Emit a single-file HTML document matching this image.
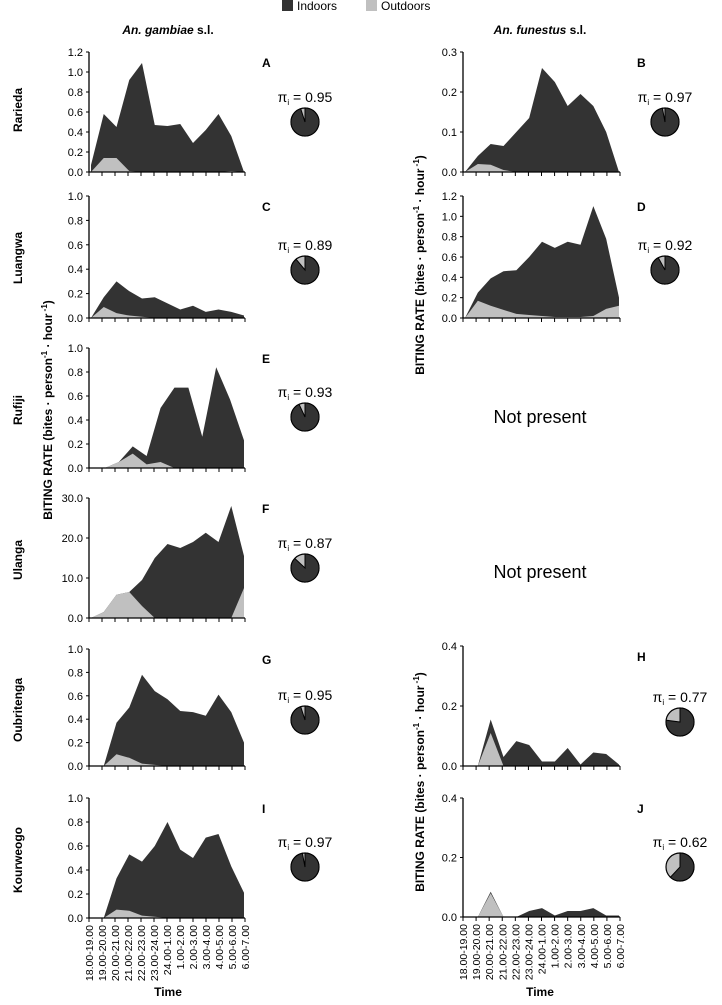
<!DOCTYPE html>
<html><head><meta charset="utf-8"><style>
body{margin:0;background:#fff;font-family:"Liberation Sans",sans-serif;}
svg text{font-family:"Liberation Sans",sans-serif;}
</style></head><body>
<svg id="fig" width="722" height="1000" viewBox="0 0 722 1000" xmlns="http://www.w3.org/2000/svg">
<g>
<rect x="282" y="0" width="11" height="11" fill="#333"/>
<text x="297" y="10" font-size="12">Indoors</text>
<rect x="366" y="0" width="11" height="11" fill="#c0c0c0"/>
<text x="381" y="10" font-size="12">Outdoors</text>
</g>
<text x="168" y="34" font-size="12" font-weight="bold" text-anchor="middle"><tspan font-style="italic">An. gambiae</tspan> s.l.</text>
<text x="540" y="34" font-size="12" font-weight="bold" text-anchor="middle"><tspan font-style="italic">An. funestus</tspan> s.l.</text>
<text x="540" y="423" font-size="18" text-anchor="middle">Not present</text>
<text x="540" y="578" font-size="18" text-anchor="middle">Not present</text>
<text transform="translate(52,410) rotate(-90)" font-size="12" font-weight="bold" text-anchor="middle">BITING RATE (bites · person<tspan font-size="8" dy="-5">-1</tspan><tspan dy="5"> · hour</tspan><tspan font-size="8" dy="-5"> -1</tspan><tspan dy="5">)</tspan></text>
<text transform="translate(424,265) rotate(-90)" font-size="12" font-weight="bold" text-anchor="middle">BITING RATE (bites · person<tspan font-size="8" dy="-5">-1</tspan><tspan dy="5"> · hour</tspan><tspan font-size="8" dy="-5"> -1</tspan><tspan dy="5">)</tspan></text>
<text transform="translate(424,782) rotate(-90)" font-size="12" font-weight="bold" text-anchor="middle">BITING RATE (bites · person<tspan font-size="8" dy="-5">-1</tspan><tspan dy="5"> · hour</tspan><tspan font-size="8" dy="-5"> -1</tspan><tspan dy="5">)</tspan></text>
<text x="168" y="996" font-size="12" font-weight="bold" text-anchor="middle">Time</text>
<text x="540" y="996" font-size="12" font-weight="bold" text-anchor="middle">Time</text>
</svg>
<script>
const timeLabels=["18.00-19.00","19.00-20.00","20.00-21.00","21.00-22.00","22.00-23.00","23.00-24.00","24.00-1.00","1.00-2.00","2.00-3.00","3.00-4.00","4.00-5.00","5.00-6.00","6.00-7.00"];
const sites=["Rarieda","Luangwa","Rufiji","Ulanga","Oubritenga","Kourweogo"];
const indoorA=[0.07,0.58,0.45,0.92,1.09,0.47,0.46,0.48,0.29,0.42,0.58,0.36,0];
const outdoorA=[0,0.14,0.14,0.01,0,0,0,0,0,0,0,0.01,0];
const indoorB=[0,0.04,0.07,0.065,0.1,0.135,0.26,0.225,0.165,0.195,0.165,0.1,0];
const outdoorB=[0,0.02,0.018,0.005,0,0,0,0,0,0,0,0,0];
const indoorC=[0,0.17,0.30,0.22,0.16,0.17,0.12,0.07,0.10,0.05,0.07,0.05,0.02];
const outdoorC=[0,0.09,0.04,0.02,0.01,0,0,0,0,0,0,0,0];
const indoorD=[0,0.25,0.39,0.46,0.47,0.6,0.75,0.69,0.75,0.72,1.1,0.78,0.2];
const outdoorD=[0,0.17,0.12,0.08,0.04,0.03,0.02,0.01,0.01,0.01,0.02,0.09,0.12];
const indoorE=[0,0,0.05,0.18,0.1,0.5,0.67,0.67,0.26,0.84,0.57,0.23];
const outdoorE=[0,0,0.05,0.12,0.03,0.05,0,0,0,0,0,0];
const indoorF=[0,1.5,5.8,6.5,9.5,15,18.5,17.5,19,21.3,19,28,15.5];
const outdoorF=[0,1.5,5.8,6.5,3,0,0,0,0,0,0,0,7.5];
const indoorG=[0,0,0.37,0.5,0.78,0.64,0.57,0.47,0.46,0.43,0.61,0.46,0.2];
const outdoorG=[0,0,0.1,0.07,0.02,0.01,0,0,0,0,0,0,0];
const indoorH=[0,0,0.155,0.03,0.083,0.07,0.015,0.015,0.06,0.005,0.045,0.04,0.005];
const outdoorH=[0,0,0.11,0,0,0,0,0,0,0,0,0,0];
const indoorI=[0,0,0.33,0.53,0.47,0.6,0.8,0.57,0.5,0.67,0.7,0.43,0.21];
const outdoorI=[0,0,0.07,0.06,0.02,0.01,0,0,0,0,0,0,0];
const indoorJ=[0,0,0.085,0,0,0.02,0.03,0.005,0.02,0.02,0.03,0.005,0.005];
const outdoorJ=[0,0,0.08,0,0,0,0,0,0,0,0,0,0];
const piValues=[0.95,0.97,0.89,0.92,0.93,0.87,0.95,0.77,0.97,0.62];
const ticksA=[0,0.2,0.4,0.6,0.8,1.0,1.2];
const ticksB=[0,0.1,0.2,0.3];
const ticks1=[0,0.2,0.4,0.6,0.8,1.0];
const ticksF=[0,10,20,30];
const ticksH=[0,0.2,0.4];

const NS="http://www.w3.org/2000/svg";
const svg=document.getElementById('fig');
function mk(tag,attrs,parent){const e=document.createElementNS(NS,tag);for(const k in attrs)e.setAttribute(k,attrs[k]);(parent||svg).appendChild(e);return e;}
const panels=[
 {id:'A',x0:91,x1:244,top:52,bot:172,max:1.2,ticks:ticksA,ind:indoorA,out:outdoorA,pi:0,px:305,py:122},
 {id:'B',x0:465,x1:619,top:52,bot:172,max:0.3,ticks:ticksB,ind:indoorB,out:outdoorB,pi:1,px:665,py:122},
 {id:'C',x0:91,x1:244,top:196,bot:318,max:1.0,ticks:ticks1,ind:indoorC,out:outdoorC,pi:2,px:305,py:270},
 {id:'D',x0:465,x1:619,top:196,bot:318,max:1.2,ticks:ticksA,ind:indoorD,out:outdoorD,pi:3,px:665,py:270},
 {id:'E',x0:91,x1:244,top:348,bot:468,max:1.0,ticks:ticks1,ind:indoorE,out:outdoorE,pi:4,px:305,py:417},
 {id:'F',x0:91,x1:244,top:498,bot:618,max:30,ticks:ticksF,ind:indoorF,out:outdoorF,pi:5,px:305,py:568},
 {id:'G',x0:91,x1:244,top:649,bot:766,max:1.0,ticks:ticks1,ind:indoorG,out:outdoorG,pi:6,px:305,py:720},
 {id:'H',x0:465,x1:619,top:646,bot:766,max:0.4,ticks:ticksH,ind:indoorH,out:outdoorH,pi:7,px:680,py:722},
 {id:'I',x0:91,x1:244,top:798,bot:918,max:1.0,ticks:ticks1,ind:indoorI,out:outdoorI,pi:8,px:305,py:867},
 {id:'J',x0:465,x1:619,top:798,bot:917,max:0.4,ticks:ticksH,ind:indoorJ,out:outdoorJ,pi:9,px:680,py:867}
];
const siteRows=[[0,110],[1,258],[2,410],[3,560],[4,710],[5,860]];
siteRows.forEach(([i,y])=>{
 const t=mk('text',{transform:`translate(22,${y}) rotate(-90)`,'font-size':12,'font-weight':'bold','text-anchor':'middle'});
 
 
 t.textContent=sites[i];
});
panels.forEach(p=>{
 const g=mk('g',{});
 
 
 const xs=i=>p.x0+(p.x1-p.x0)*i/(p.ind.length-1);
 const ys=v=>p.bot-(p.bot-p.top)*v/p.max;
 function area(arr,fill,name){
  let d=`M${xs(0)},${p.bot}`;
  arr.forEach((v,i)=>{d+=` L${xs(i)},${ys(v)}`;});
  d+=` L${xs(arr.length-1)},${p.bot} Z`;
  const a=mk('path',{d:d,fill:fill},g);
  
  
 }
 area(p.ind,'#333','indoors-area-'+p.id.toLowerCase());
 area(p.out,'#c0c0c0','outdoors-area-'+p.id.toLowerCase());
 const ax=mk('path',{d:`M${p.x0-2},${p.top} L${p.x0-2},${p.bot} L${p.x1+1},${p.bot}`,stroke:'#000','stroke-width':1.3,fill:'none'},g);
 
 
 p.ticks.forEach(v=>{
  const y=ys(v);
  mk('line',{x1:p.x0-5,x2:p.x0-2,y1:y,y2:y,stroke:'#000'},g);
  const t=mk('text',{x:p.x0-8,y:y+4,'font-size':11,'text-anchor':'end'},g);
  
  
  t.textContent=v.toFixed(1);
 });
 const nT=13;
 for(let i=0;i<nT;i++){
  const x=p.x0-2+(p.x1+1-(p.x0-2))*i/(nT-1);
  mk('line',{x1:x,x2:x,y1:p.bot,y2:p.bot+4,stroke:'#000'},g);
  if(p.id==='I'||p.id==='J'){
   const t=mk('text',{transform:`translate(${x+4},${p.bot+7}) rotate(-90)`,'font-size':10.5,'text-anchor':'end'},g);
   
   
   t.textContent=timeLabels[i];
  }
 }
 const lab=mk('text',{x:p.x1+18,y:p.top+15,'font-size':12,'font-weight':'bold'},g);
 
 
 lab.textContent=p.id;
 const pv=piValues[p.pi];
 const pt=mk('text',{x:p.px,y:p.py-20,'font-size':14,'text-anchor':'middle'},g);
 
 
 pt.innerHTML='π<tspan font-size="8" dy="3">i</tspan><tspan dy="-3"> = '+pv.toFixed(2)+'</tspan>';
 const r=14,cx=p.px,cy=p.py;
 const c=mk('circle',{cx:cx,cy:cy,r:r,fill:'#c0c0c0',stroke:'#000','stroke-width':1.2},g);
 
 
 const ang=2*Math.PI*pv;
 const ex=cx+r*Math.sin(ang),ey=cy-r*Math.cos(ang);
 const sl=mk('path',{d:`M${cx},${cy} L${cx},${cy-r} A${r},${r} 0 ${pv>0.5?1:0} 1 ${ex},${ey} Z`,fill:'#333',stroke:'#000','stroke-width':1},g);
 
 
});
</script>
</body></html>
